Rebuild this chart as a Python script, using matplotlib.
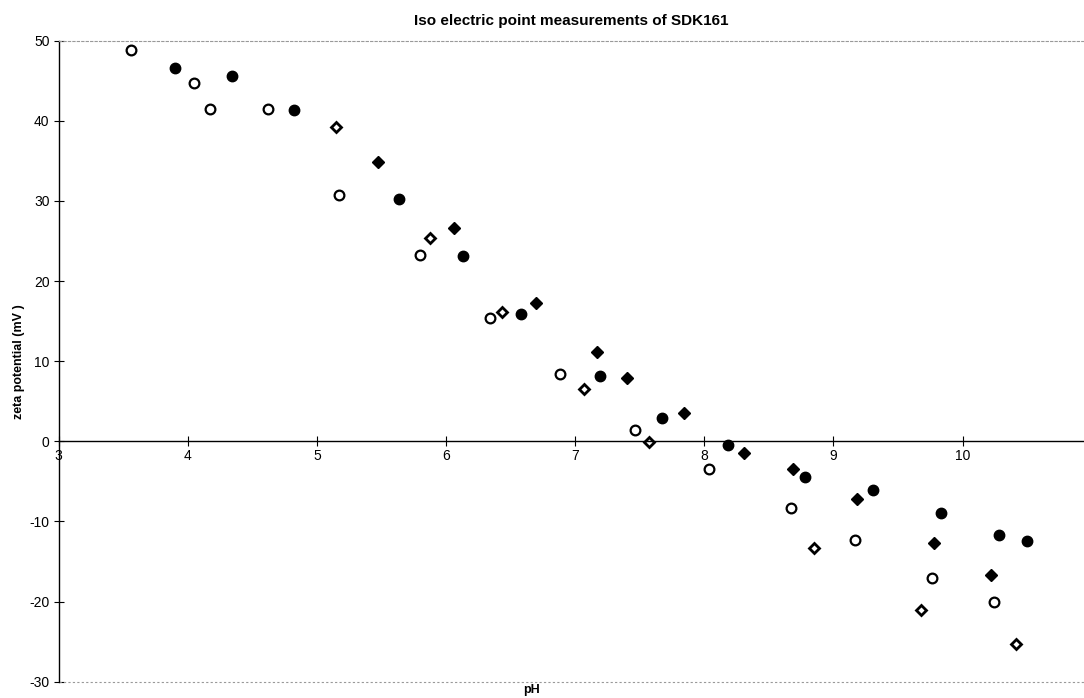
import matplotlib.pyplot as plt

plt.rcParams['font.family'] = ['Liberation Sans', 'DejaVu Sans']
plt.rcParams['axes.unicode_minus'] = False

# Series (pH, zeta potential mV)
open_circle_ph = [3.56, 4.05, 4.17, 4.62, 5.17, 5.80, 6.34, 6.88, 7.46, 8.04, 8.67, 9.17, 9.76, 10.24]
open_circle_zeta = [48.8, 44.7, 41.5, 41.5, 30.7, 23.3, 15.4, 8.4, 1.4, -3.4, -8.3, -12.3, -17.1, -20.0]

filled_circle_ph = [3.90, 4.34, 4.82, 5.64, 6.13, 6.58, 7.19, 7.67, 8.18, 8.78, 9.31, 9.83, 10.28, 10.50]
filled_circle_zeta = [46.6, 45.6, 41.4, 30.2, 23.1, 15.9, 8.1, 2.9, -0.4, -4.4, -6.1, -9.0, -11.7, -12.5]

filled_diamond_ph = [5.47, 6.06, 6.70, 7.17, 7.40, 7.84, 8.31, 8.69, 9.18, 9.78, 10.22]
filled_diamond_zeta = [34.9, 26.6, 17.2, 11.1, 7.9, 3.5, -1.5, -3.4, -7.2, -12.7, -16.7]

open_diamond_ph = [5.15, 5.88, 6.43, 7.07, 7.57, 8.85, 9.68, 10.41]
open_diamond_zeta = [39.2, 25.4, 16.2, 6.5, -0.1, -13.3, -21.1, -25.3]

x_ticks = [3, 4, 5, 6, 7, 8, 9, 10]
y_ticks = [-30, -20, -10, 0, 10, 20, 30, 40, 50]

fig = plt.figure(figsize=(10.84, 6.98), dpi=100)
ax = fig.add_axes([0.054, 0.0234, 0.946, 0.9183])

ax.plot(open_circle_ph, open_circle_zeta, 'o', ms=7, mfc='white', mec='black', mew=1.6, linestyle='none')
ax.plot(filled_circle_ph, filled_circle_zeta, 'o', ms=7.5, mfc='black', mec='black', linestyle='none')
ax.plot(filled_diamond_ph, filled_diamond_zeta, 'D', ms=6, mfc='black', mec='black', linestyle='none')
ax.plot(open_diamond_ph, open_diamond_zeta, 'D', ms=5, mfc='white', mec='black', mew=2.0, linestyle='none')

ax.set_xlim(3, 10.94)
ax.set_ylim(-30, 50)

# x axis crosses at zero
ax.spines['bottom'].set_position(('data', 0))
ax.spines['bottom'].set_linewidth(1.0)
ax.spines['left'].set_linewidth(1.0)
ax.spines['right'].set_visible(False)
ax.spines['top'].set_color('#999999')
ax.spines['top'].set_linestyle((0, (2, 2)))
ax.spines['top'].set_linewidth(0.8)
ax.axhline(-30, color='#999999', linestyle=(0, (2, 2)), linewidth=0.8, clip_on=False)

ax.set_xticks(x_ticks)
ax.set_yticks(y_ticks)
ax.tick_params(axis='both', direction='inout', length=7, width=0.8, labelsize=10)
ax.tick_params(axis='x', pad=2)
ax.tick_params(axis='y', pad=3)

ax.set_title('Iso electric point measurements of SDK161', fontsize=11, fontweight='bold', pad=11)
ax.set_ylabel('zeta potential (mV )', fontsize=9, fontweight='bold')
ax.yaxis.set_label_coords(-0.033, 0.5)
fig.text(0.49, 0.012, 'pH', ha='center', va='center', fontsize=9, fontweight='bold')

fig.savefig('out.png', dpi=100)
